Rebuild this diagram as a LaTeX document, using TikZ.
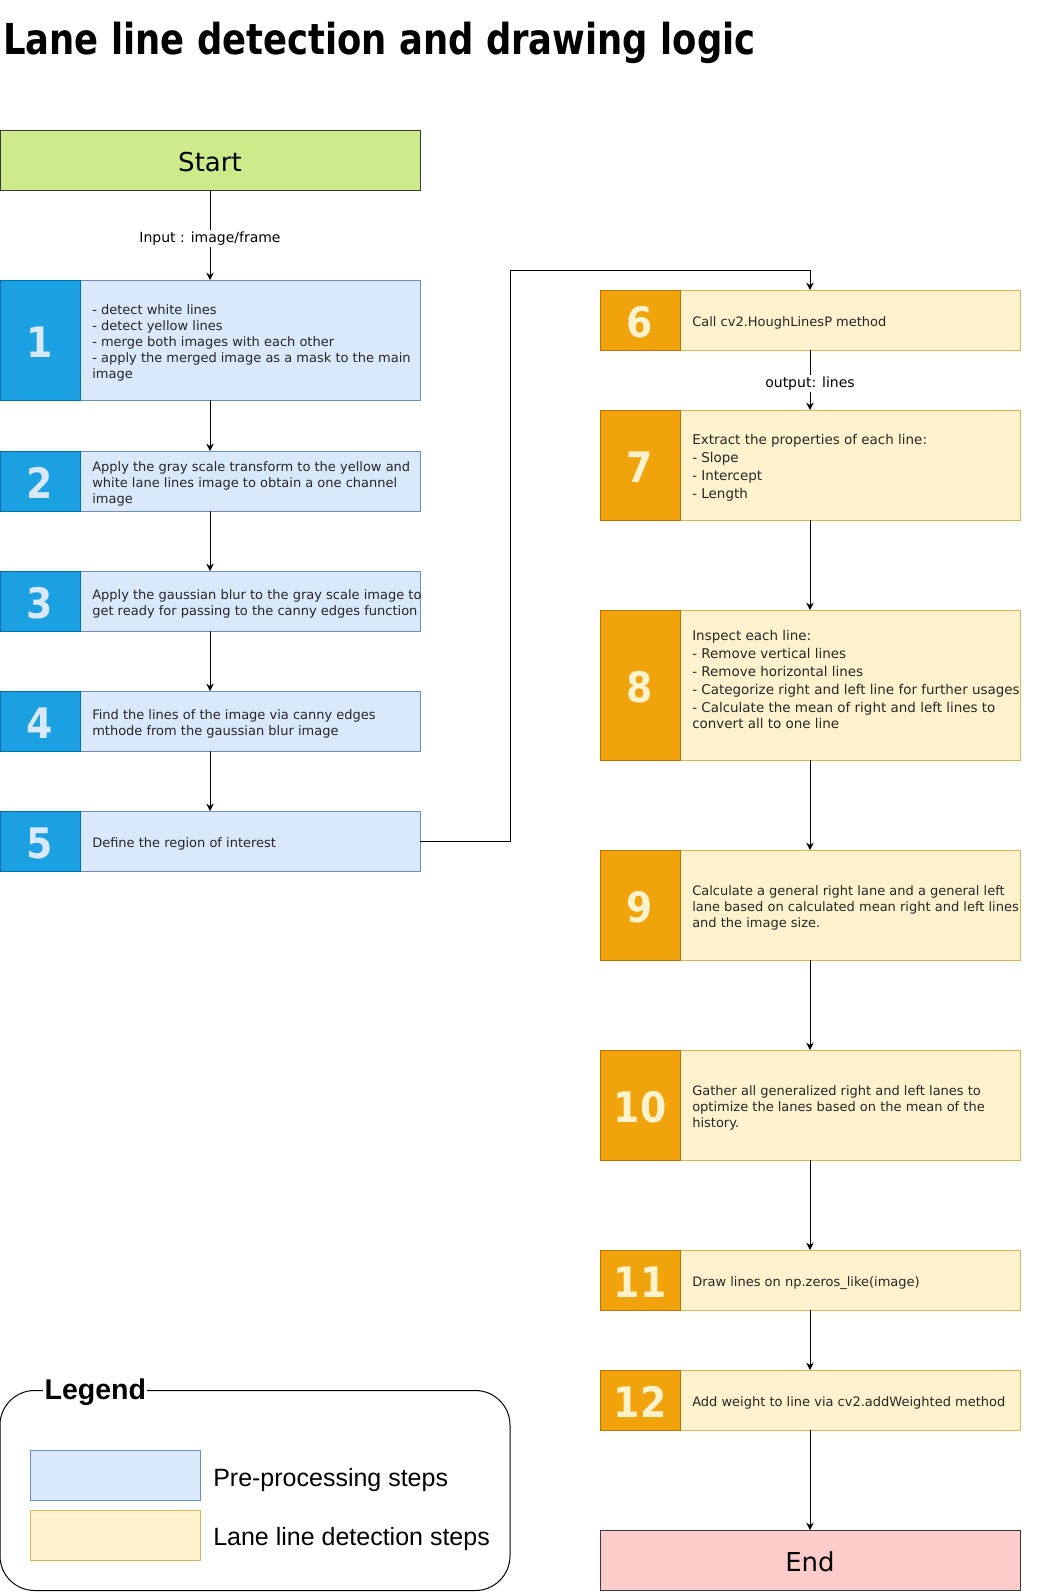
\documentclass[tikz,border=0pt]{standalone}
\usepackage{fontspec}
\setmainfont{DejaVu Sans}
\newfontfamily\numfont[FakeStretch=0.9]{DejaVu Sans}
\newfontfamily\titlefont[FakeStretch=0.83]{DejaVu Sans}
\newfontfamily\legfont{Liberation Sans}
\usetikzlibrary{arrows.meta}
\definecolor{numB}{HTML}{1BA1E2}
\definecolor{numBd}{HTML}{006EAF}
\definecolor{lightB}{HTML}{DAE8FC}
\definecolor{lightBd}{HTML}{6C8EBF}
\definecolor{numO}{HTML}{F0A30A}
\definecolor{numOd}{HTML}{BD7000}
\definecolor{lightY}{HTML}{FFF2CC}
\definecolor{lightYd}{HTML}{D6B656}
\definecolor{startF}{HTML}{CDEB8B}
\definecolor{endF}{HTML}{FFCCCC}
\definecolor{termD}{HTML}{36393D}
\begin{document}
\begin{tikzpicture}[x=0.75pt,y=-0.75pt,
  box/.style={draw, line width=0.75pt, inner sep=0pt, outer sep=0pt, anchor=north west},
  pre/.style={box, fill=lightB, draw=lightBd, minimum width=315pt},
  det/.style={box, fill=lightY, draw=lightYd, minimum width=315pt},
  numtext/.style={text height=25.5pt, text depth=0pt,
    font=\numfont\bfseries\fontsize{31.5pt}{32pt}\selectfont},
  prenum/.style={box, fill=numB, draw=numBd, minimum width=60pt, text=lightB, numtext},
  detnum/.style={box, fill=numO, draw=numOd, minimum width=60pt, text=lightY, numtext},
  txt/.style={anchor=west, align=left, inner sep=0pt, text=black!85, yshift=-2pt,
    font=\fontsize{9.75pt}{12pt}\selectfont},
  txtb/.style={txt, font=\fontsize{10.1pt}{13.5pt}\selectfont},
  term/.style={box, minimum width=315pt, minimum height=45pt, draw=termD,
    text height=17.5pt, text depth=0pt,
    font=\fontsize{19.5pt}{20pt}\selectfont},
  arr/.style={-{Stealth[length=5.5pt,width=5.5pt]}, line width=0.75pt},
  lbl/.style={fill=white, inner sep=1.5pt, yshift=-2.5pt, font=\fontsize{10.5pt}{12pt}\selectfont},
  swatch/.style={box, minimum width=127.5pt, minimum height=37.5pt},
  legtxt/.style={anchor=base west, inner sep=0pt, font=\legfont\fontsize{18.75pt}{20pt}\selectfont}
]
\useasboundingbox (0,0) rectangle (1051,1592);

% title
\node[anchor=base west, inner sep=0pt, font=\titlefont\bfseries\fontsize{32pt}{34pt}\selectfont] (title) at (3,54) {Lane line detection and drawing logic};

% start
\node[term, fill=startF] (start) at (0,130) {Start};

% left column
\node[pre, minimum height=90pt] (s1) at (0,280) {};
\node[prenum, minimum height=90pt] (n1) at (0,280) {1};
\node[txt] (t1) at ([xshift=69pt]s1.west) {- detect white lines\\- detect yellow lines\\- merge both images with each other\\- apply the merged image as a mask to the main\\image};

\node[pre, minimum height=45pt] (s2) at (0,451) {};
\node[prenum, minimum height=45pt] (n2) at (0,451) {2};
\node[txt] (t2) at ([xshift=69pt]s2.west) {Apply the gray scale transform to the yellow and\\white lane lines image to obtain a one channel\\image};

\node[pre, minimum height=45pt] (s3) at (0,571) {};
\node[prenum, minimum height=45pt] (n3) at (0,571) {3};
\node[txt] (t3) at ([xshift=69pt]s3.west) {Apply the gaussian blur to the gray scale image to\\get ready for passing to the canny edges function};

\node[pre, minimum height=45pt] (s4) at (0,691) {};
\node[prenum, minimum height=45pt] (n4) at (0,691) {4};
\node[txt] (t4) at ([xshift=69pt]s4.west) {Find the lines of the image via canny edges\\mthode from the gaussian blur image};

\node[pre, minimum height=45pt] (s5) at (0,811) {};
\node[prenum, minimum height=45pt] (n5) at (0,811) {5};
\node[txt] (t5) at ([xshift=69pt]s5.west) {Define the region of interest};

% right column
\node[det, minimum height=45pt] (s6) at (600,290) {};
\node[detnum, minimum height=45pt] (n6) at (600,290) {6};
\node[txt] (t6) at ([xshift=69pt]s6.west) {Call cv2.HoughLinesP method};

\node[det, minimum height=82.5pt] (s7) at (600,410) {};
\node[detnum, minimum height=82.5pt] (n7) at (600,410) {7};
\node[txtb] (t7) at ([xshift=69pt]s7.west) {Extract the properties of each line:\\- Slope\\- Intercept\\- Length};

\node[det, minimum height=112.5pt] (s8) at (600,610) {};
\node[detnum, minimum height=112.5pt] (n8) at (600,610) {8};
\node[txtb] (t8) at ([xshift=69pt,yshift=6pt]s8.west) {Inspect each line:\\- Remove vertical lines\\- Remove horizontal lines\\- Categorize right and left line for further usages\\- Calculate the mean of right and left lines to\\[-1.5pt]convert all to one line};

\node[det, minimum height=82.5pt] (s9) at (600,850) {};
\node[detnum, minimum height=82.5pt] (n9) at (600,850) {9};
\node[txt] (t9) at ([xshift=69pt]s9.west) {Calculate a general right lane and a general left\\lane based on calculated mean right and left lines\\and the image size.};

\node[det, minimum height=82.5pt] (s10) at (600,1050) {};
\node[detnum, minimum height=82.5pt] (n10) at (600,1050) {10};
\node[txt] (t10) at ([xshift=69pt]s10.west) {Gather all generalized right and left lanes to\\optimize the lanes based on the mean of the\\history.};

\node[det, minimum height=45pt] (s11) at (600,1250) {};
\node[detnum, minimum height=45pt] (n11) at (600,1250) {11};
\node[txt] (t11) at ([xshift=69pt]s11.west) {Draw lines on np.zeros\_like(image)};

\node[det, minimum height=45pt] (s12) at (600,1370) {};
\node[detnum, minimum height=45pt] (n12) at (600,1370) {12};
\node[txt] (t12) at ([xshift=69pt]s12.west) {Add weight to line via cv2.addWeighted method};

\node[term, fill=endF] (end) at (600,1530) {End};

% connectors
\draw[arr] (start) -- node[lbl] {Input : image/frame} (s1);
\draw[arr] (s1) -- (s2);
\draw[arr] (s2) -- (s3);
\draw[arr] (s3) -- (s4);
\draw[arr] (s4) -- (s5);
\coordinate (bend) at (510,270);
\draw[arr] (s5.east) -| (bend) -| (s6.north);
\draw[arr] (s6) -- node[lbl] {output: lines} (s7);
\draw[arr] (s7) -- (s8);
\draw[arr] (s8) -- (s9);
\draw[arr] (s9) -- (s10);
\draw[arr] (s10) -- (s11);
\draw[arr] (s11) -- (s12);
\draw[arr] (s12) -- (end);

% legend
\draw[line width=0.75pt, rounded corners=26pt] (0,1390.5) rectangle (510,1590.5);
\node[anchor=base west, fill=white, inner xsep=1pt, inner ysep=1pt,
  font=\legfont\bfseries\fontsize{21.4pt}{22pt}\selectfont] (legend) at (43,1399) {Legend};
\node[swatch, fill=lightB, draw=lightBd] (sw1) at (30,1450) {};
\node[swatch, fill=lightY, draw=lightYd] (sw2) at (30,1510) {};
\node[legtxt] (l1) at (213,1486) {Pre-processing steps};
\node[legtxt] (l2) at (213,1545) {Lane line detection steps};
\end{tikzpicture}
\end{document}
